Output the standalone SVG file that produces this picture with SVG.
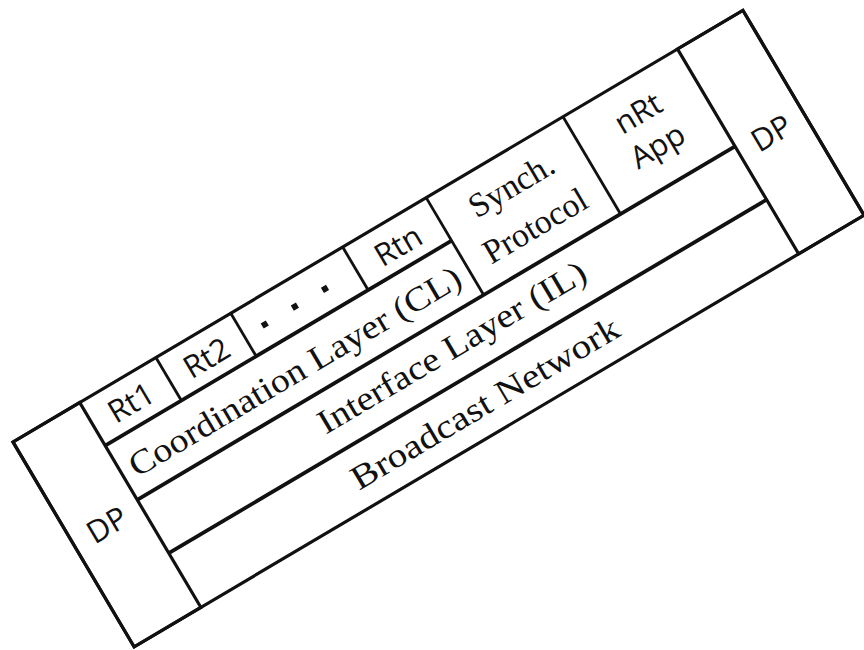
<svg xmlns="http://www.w3.org/2000/svg" width="864" height="650" viewBox="0 0 864 650">
<style>
.box{fill:none;stroke:#111;stroke-width:3.2}
.v{stroke:#111;stroke-width:2.8}
.h{stroke:#111;stroke-width:3.8}
.sans{font-family:"Open Sans","Liberation Sans",sans-serif;font-size:31px;fill:#111;text-anchor:middle}
.serif{font-family:"Liberation Serif","DejaVu Serif",serif;font-size:34px;fill:#111;text-anchor:middle}
.dot{fill:#111}
</style>
<rect width="864" height="650" fill="#fff"/>
<g transform="translate(13,442) rotate(-30.6)">
  <g id="connectors">
    <line class="h" x1="77.5" y1="50" x2="480" y2="50"/>
    <line class="h" x1="77.5" y1="113" x2="772" y2="113"/>
    <line class="h" x1="77.5" y1="175" x2="772" y2="175"/>
    <line class="v" x1="166" y1="0" x2="166" y2="50"/>
    <line class="v" x1="253" y1="0" x2="253" y2="50"/>
    <line class="v" x1="383" y1="0" x2="383" y2="50"/>
    <line class="v" x1="480" y1="0" x2="480" y2="113"/>
    <line class="v" x1="639" y1="0" x2="639" y2="113"/>
  </g>
  <rect class="box" x="0" y="0" width="848" height="238"/>
  <g id="dp-left">
    <rect class="box" x="0" y="0" width="77.5" height="238"/>
    <text class="sans" x="38.75" y="130">DP</text>
  </g>
  <g id="rt1">
    <text class="sans" x="121.7" y="37">Rt1</text>
  </g>
  <g id="rt2">
    <text class="sans" x="209.5" y="37">Rt2</text>
  </g>
  <g id="dots">
    <rect class="dot" x="273.5" y="24" width="6" height="6"/>
    <rect class="dot" x="308.5" y="24" width="6" height="6"/>
    <rect class="dot" x="343.5" y="24" width="6" height="6"/>
  </g>
  <g id="rtn">
    <text class="sans" x="431.5" y="38">Rtn</text>
  </g>
  <g id="synch">
    <text class="serif" x="559.5" y="44">Synch.</text>
    <text class="serif" x="559.5" y="91">Protocol</text>
  </g>
  <g id="nrt-app">
    <text class="sans" x="705.5" y="46">nRt</text>
    <text class="sans" x="705.5" y="84">App</text>
  </g>
  <g id="cl">
    <text class="serif" x="278.5" y="94" textLength="380" lengthAdjust="spacingAndGlyphs">Coordination Layer (CL)</text>
  </g>
  <g id="il">
    <text class="serif" x="426" y="153" textLength="306" lengthAdjust="spacingAndGlyphs">Interface Layer (IL)</text>
  </g>
  <g id="bn">
    <text class="serif" x="426" y="218" textLength="306" lengthAdjust="spacingAndGlyphs">Broadcast Network</text>
  </g>
  <g id="dp-right">
    <rect class="box" x="772" y="0" width="76" height="238"/>
    <text class="sans" x="810" y="131">DP</text>
  </g>
</g>
</svg>
